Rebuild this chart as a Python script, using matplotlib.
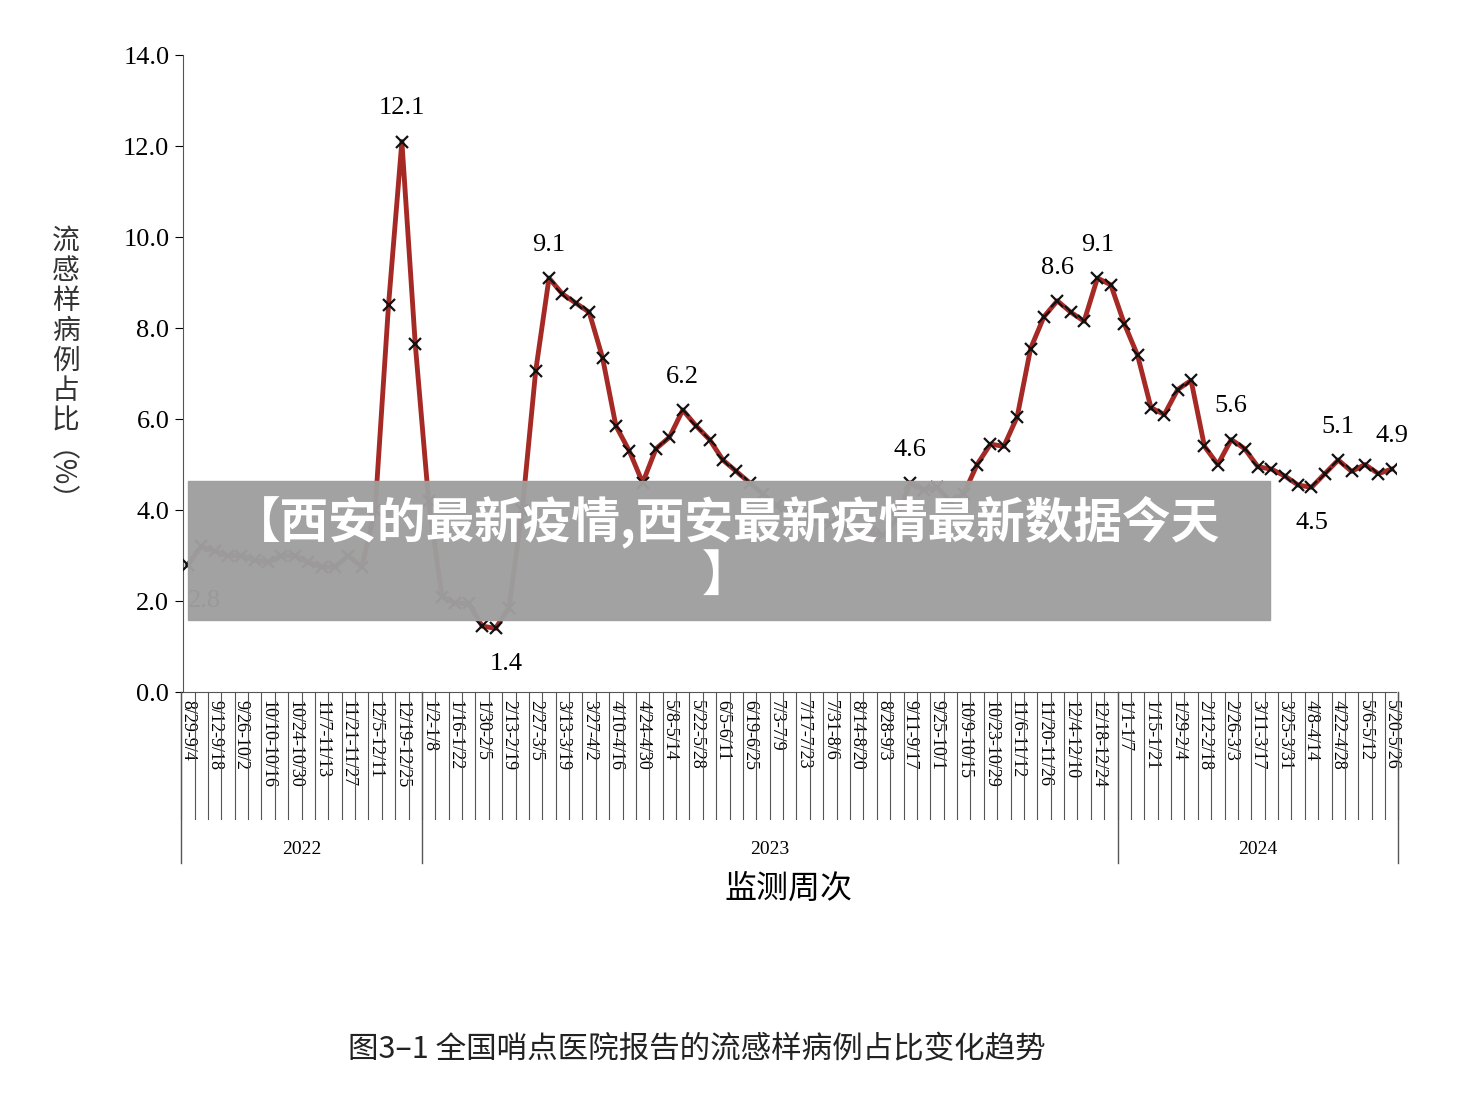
import matplotlib
matplotlib.use("Agg")
import matplotlib.pyplot as plt
from matplotlib.patches import Rectangle
import numpy as np

plt.rcParams['font.family'] = ['Liberation Serif', 'Noto Sans CJK SC']

# weekly share of influenza-like illness (%), 2022-08-29 .. 2024-05-26
values = [2.8, 3.2, 3.1, 3.0, 3.0, 2.9, 2.85, 3.0, 3.0, 2.85,
          2.75, 2.75, 3.0, 2.75, 4.0, 8.5, 12.1, 7.65, 4.2, 2.1,
          1.95, 1.95, 1.45, 1.4, 1.85, 4.0, 7.05, 9.1, 8.75, 8.55,
          8.35, 7.35, 5.85, 5.3, 4.6, 5.35, 5.6, 6.2, 5.85, 5.55,
          5.1, 4.85, 4.6, 4.35, 4.1, 4.0, 3.9, 3.8, 3.7, 3.6,
          3.5, 3.5, 3.45, 3.8, 4.6, 4.45, 4.5, 4.2, 4.35, 5.0,
          5.45, 5.4, 6.05, 7.55, 8.25, 8.6, 8.35, 8.15, 9.1, 8.95,
          8.1, 7.4, 6.25, 6.1, 6.65, 6.85, 5.4, 5.0, 5.55, 5.35,
          4.95, 4.9, 4.75, 4.55, 4.5, 4.8, 5.1, 4.85, 5.0, 4.8, 4.9]

week_labels = ['8/29-9/4', '9/12-9/18', '9/26-10/2', '10/10-10/16', '10/24-10/30',
               '11/7-11/13', '11/21-11/27', '12/5-12/11', '12/19-12/25', '1/2-1/8',
               '1/16-1/22', '1/30-2/5', '2/13-2/19', '2/27-3/5', '3/13-3/19',
               '3/27-4/2', '4/10-4/16', '4/24-4/30', '5/8-5/14', '5/22-5/28',
               '6/5-6/11', '6/19-6/25', '7/3-7/9', '7/17-7/23', '7/31-8/6',
               '8/14-8/20', '8/28-9/3', '9/11-9/17', '9/25-10/1', '10/9-10/15',
               '10/23-10/29', '11/6-11/12', '11/20-11/26', '12/4-12/10', '12/18-12/24',
               '1/1-1/7', '1/15-1/21', '1/29-2/4', '2/12-2/18', '2/26-3/3',
               '3/11-3/17', '3/25-3/31', '4/8-4/14', '4/22-4/28', '5/6-5/12', '5/20-5/26']

years = ['2022', '2023', '2024']
year_starts = [0, 18, 70]  # first week index of each year

# (week index, text, x offset, y offset)
notes = [(0, '2.8', 12, -18), (16, '12.1', 0, 16), (27, '9.1', 0, 16), (23, '1.4', 8, -18),
         (37, '6.2', 0, 16), (54, '4.6', 0, 16), (65, '8.6', 0, 16), (68, '9.1', 0, 16),
         (78, '5.6', 0, 16), (84, '4.5', 0, -18), (86, '5.1', 0, 16), (90, '4.9', 0, 16)]

x = np.arange(len(values))
fig = plt.figure(figsize=(14.6, 11.02), dpi=100)
ax = fig.add_axes([0.125, 0.372, 0.831, 0.578])
ax.plot(x, values, color='#a52a26', lw=3.5, zorder=2)
ax.plot(x, values, ls='none', marker='x', ms=9, mew=1.6, color='#111111', zorder=3)

ax.set_xlim(-0.4, len(values) - 0.7)
ax.set_ylim(0, 14)
ax.set_yticks(np.arange(0, 14.1, 2))
ax.set_yticklabels([f'{v:.1f}' for v in np.arange(0, 14.1, 2)], fontsize=19)
ax.set_xticks(x[::2])
ax.set_xticklabels(week_labels, rotation=-90, fontsize=13, va='top')
ax.tick_params(axis='x', length=0, pad=6)
ax.tick_params(axis='y', direction='out', length=6)
for s in ['top', 'right']:
    ax.spines[s].set_visible(False)
ax.spines['left'].set_color('#555555')
ax.spines['bottom'].set_color('#555555')

for i, t, dx, dy in notes:
    ax.annotate(t, (i, values[i]), xytext=(dx, dy), textcoords='offset points',
                ha='center', va='bottom' if dy > 0 else 'top', fontsize=19)

# category separator lines below axis
for k in range(len(values) + 1):
    ax.plot([k - 0.5, k - 0.5], [0, -2.8], color='#555555', lw=0.8, clip_on=False)
bounds = year_starts + [len(values)]
for b in bounds:
    ax.plot([b - 0.5, b - 0.5], [0, -3.75], color='#555555', lw=1, clip_on=False)
for j, yr in enumerate(years):
    ax.text((bounds[j] + bounds[j + 1] - 1) / 2, -3.45, yr, ha='center', va='center', fontsize=14)

fig.text(0.045, 0.70, '\n'.join('流感样病例占比'), ha='center', va='center', fontsize=20,
         family=['Noto Sans CJK SC'], linespacing=1.0, color='#333333')
fig.text(0.030, 0.555, '（%）', ha='center', va='center', fontsize=20, rotation=-90,
         family=['Noto Sans CJK SC'], color='#333333')

fig.text(0.54, 0.185, '监测周次', ha='center', fontsize=23, family=['Noto Sans CJK SC'])
fig.text(0.477, 0.04, '图3–1 全国哨点医院报告的流感样病例占比变化趋势', ha='center',
         fontsize=22, family=['Noto Sans CJK SC'], color='#222222')

# overlay banner
fig.patches.append(Rectangle((188 / 1460, 1 - 620 / 1102), (1270 - 188) / 1460, 139 / 1102,
                             transform=fig.transFigure, color='#9f9f9f', alpha=0.97, zorder=10))
fig.text(0.497, 1 - 548 / 1102, '【西安的最新疫情,西安最新疫情最新数据今天\n】', ha='center', va='center',
         fontsize=35, weight='bold', color='white', family=['Noto Sans CJK SC'], zorder=11,
         linespacing=1.1)

fig.savefig('out.png', dpi=100)
